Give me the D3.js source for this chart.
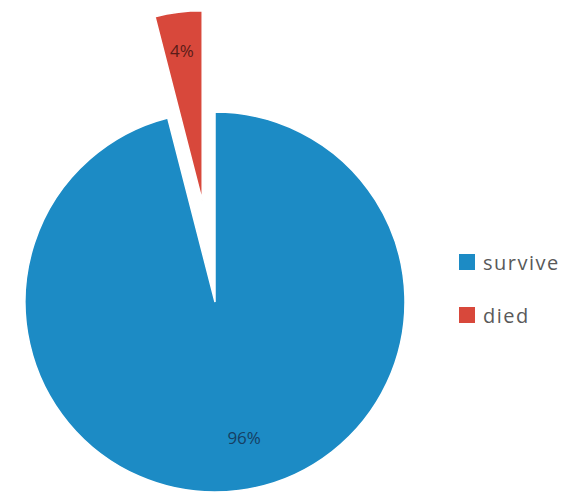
<!DOCTYPE html>
<html><head><meta charset="utf-8">
<script src="https://cdn.jsdelivr.net/npm/d3@7"></script>
<style>body{margin:0;background:#fff;}svg{display:block;}</style>
</head><body>
<svg id="c" width="568" height="493"></svg>
<script>
const categories = ["survive", "died"];
const values = [96, 4];
const labels = ["96%", "4%"];
const colors = ["#1c8bc5", "#d8483b"];

const svg = d3.select("#c");
const cx = 215, cy = 302, r = 190, explode = 102;
const pie = d3.pie().sort(null).value(d => d)
  .startAngle(0).endAngle(2 * Math.PI);
const arcs = pie(values);
const arc = d3.arc().innerRadius(0).outerRadius(r);
const g = svg.append("g").attr("transform", `translate(${cx},${cy})`);
const off = [0, explode];
const labelR = [0.72, 0.81];
const labelNudge = [[12, 0], [-1, 2]];
arcs.forEach((a, i) => {
  const mid = (a.startAngle + a.endAngle) / 2;
  const dx = Math.sin(mid) * off[i], dy = -Math.cos(mid) * off[i];
  const sg = g.append("g").attr("transform", `translate(${dx},${dy})`);
  sg.append("path").attr("d", arc(a)).attr("fill", colors[i])
    .attr("stroke", "#fff").attr("stroke-width", 1.5);
  const lr = r * labelR[i];
  sg.append("text")
    .attr("x", Math.sin(mid) * lr + labelNudge[i][0])
    .attr("y", -Math.cos(mid) * lr + labelNudge[i][1])
    .attr("text-anchor", "middle").attr("dominant-baseline", "central")
    .attr("font-family", "Open Sans, Liberation Sans, sans-serif")
    .attr("font-size", 17).attr("fill", i === 0 ? "#163f63" : "#5a1c18")
    .text(labels[i]);
});

const lg = svg.append("g").attr("transform", "translate(459,254)");
categories.forEach((c, i) => {
  const row = lg.append("g").attr("transform", `translate(0,${i * 53})`);
  row.append("rect").attr("width", 16).attr("height", 16).attr("fill", colors[i]);
  row.append("text").attr("x", 24).attr("y", 16)
    .attr("font-family", "Open Sans, Liberation Sans, sans-serif")
    .attr("font-size", 20).attr("letter-spacing", 1.5)
    .attr("fill", "#595959").text(c);
});
</script>
</body></html>
